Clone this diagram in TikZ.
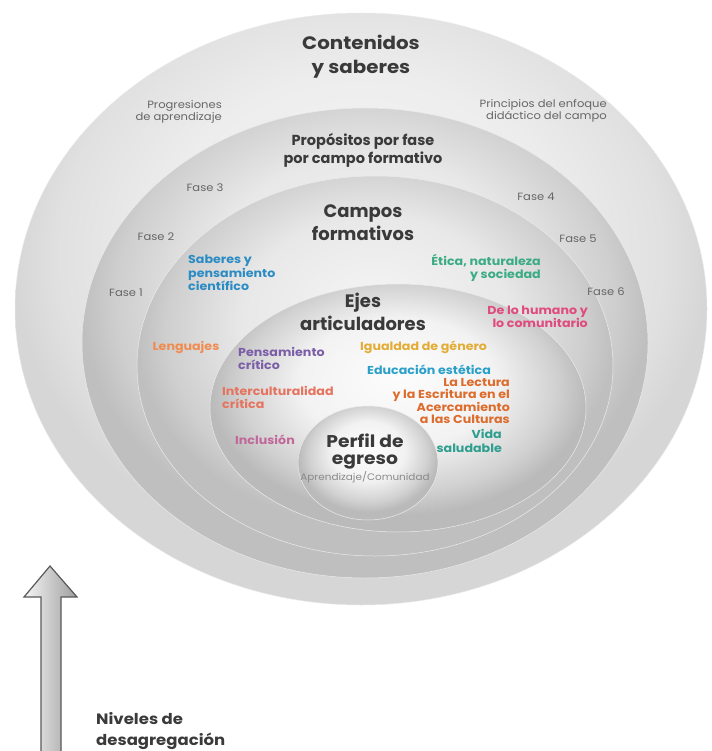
\documentclass[tikz,border=0pt]{standalone}
\usepackage{fontspec}
\setmainfont{Poppins}
\newfontfamily\wf{Poppins}[FakeStretch=1.1]
\definecolor{ttl}{HTML}{3A3A3A}
\definecolor{fas}{HTML}{666666}
\definecolor{cSab}{HTML}{2B8CC4}
\definecolor{cEti}{HTML}{3BAB84}
\definecolor{cHum}{HTML}{E04A7E}
\definecolor{cLen}{HTML}{F08C50}
\definecolor{cPen}{HTML}{7B5EA7}
\definecolor{cIgu}{HTML}{E3AC35}
\definecolor{cEdu}{HTML}{2AA0C8}
\definecolor{cLec}{HTML}{DD6C2C}
\definecolor{cInt}{HTML}{E6735E}
\definecolor{cInc}{HTML}{C2679A}
\definecolor{cVid}{HTML}{2E9E8E}
\definecolor{cApr}{HTML}{8A8A8A}
\pgfdeclareradialshading{lvlA}{\pgfpoint{0bp}{8bp}}{color(0bp)=(black!4); color(14bp)=(black!7); color(22bp)=(black!12); color(25bp)=(black!16); color(50bp)=(black!16)}
\pgfdeclareradialshading{lvlB}{\pgfpoint{0bp}{8bp}}{color(0bp)=(black!4); color(14bp)=(black!9); color(22bp)=(black!19); color(25bp)=(black!25); color(50bp)=(black!25)}
\pgfdeclareradialshading{lvlC}{\pgfpoint{0bp}{7bp}}{color(0bp)=(black!1); color(13bp)=(black!5); color(21bp)=(black!18); color(25bp)=(black!27); color(50bp)=(black!27)}
\tikzset{
  ttlnode/.style={font=\bfseries\fontsize{18}{23}\selectfont, text=ttl, align=center, inner sep=0pt},
  subttl/.style={font=\bfseries\fontsize{14.5}{18}\selectfont, text=ttl, align=center, inner sep=0pt},
  fasenode/.style={font=\wf\fontsize{10.5}{12}\selectfont, text=fas, inner sep=0pt},
  smallnode/.style={font=\wf\fontsize{10.5}{12.5}\selectfont, text=fas, inner sep=0pt},
  lab/.style={font=\wf\bfseries\fontsize{11.5}{13}\selectfont, inner sep=0pt},
  ring/.style={draw=black!8, line width=0.5pt}
}
\begin{document}
\begin{tikzpicture}[x=1pt,y=-1pt]
\useasboundingbox (0,0) rectangle (711,751);
% rings
\path[ring, shading=lvlA] (361,309) ellipse [x radius=346, y radius=296];
\path[ring, shading=lvlB] (365,343) ellipse [x radius=283, y radius=235];
\path[ring, shading=lvlB] (375,366) ellipse [x radius=238, y radius=190];
\path[ring, shading=lvlC] (398,408) ellipse [x radius=188, y radius=124];
\path[ring, shading=lvlC] (368,463) ellipse [x radius=70, y radius=57];
% titles
\node[ttlnode, font=\wf\bfseries\fontsize{18}{24}\selectfont] (contenidos) at (361,57) {Contenidos\\y saberes};
\node[smallnode, anchor=east, align=right] (progresiones) at (222,112) {Progresiones\\de aprendizaje};
\node[smallnode, anchor=east, align=right] (principios) at (607,111) {Principios del enfoque\\didáctico del campo};
\node[subttl] (propositos) at (363,150) {Propósitos por fase\\por campo formativo};
\node[fasenode] (fase3) at (205,188) {Fase 3};
\node[fasenode] (fase4) at (536,197) {Fase 4};
\node[fasenode] (fase2) at (156,237) {Fase 2};
\node[fasenode] (fase5) at (578,239) {Fase 5};
\node[fasenode] (fase1) at (126,293) {Fase 1};
\node[fasenode] (fase6) at (606,292) {Fase 6};
\node[ttlnode] (campos) at (363,223) {Campos\\formativos};
\node[lab, text=cSab, anchor=west, align=left, font=\wf\bfseries\fontsize{11.5}{13.5}\selectfont] (saberes) at (188,273) {Saberes y\\pensamiento\\científico};
\node[lab, text=cEti, anchor=east, align=right] (etica) at (541,268) {Ética, naturaleza\\y sociedad};
\node[ttlnode] (ejes) at (363,312) {Ejes\\articuladores};
\node[lab, text=cHum, anchor=east, align=right] (humano) at (588,317) {De lo humano y\\lo comunitario};
\node[lab, text=cLen] (lenguajes) at (186,347) {Lenguajes};
\node[lab, text=cPen, anchor=west, align=left] (pensamiento) at (238,358) {Pensamiento\\crítico};
\node[lab, text=cIgu, anchor=west] (igualdad) at (360,347) {Igualdad de género};
\node[lab, text=cEdu, anchor=west] (educacion) at (367,370) {Educación estética};
\node[lab, text=cLec, anchor=east, align=right, font=\wf\bfseries\fontsize{11.5}{12}\selectfont] (lectura) at (510,401) {La Lectura\\y la Escritura en el\\Acercamiento\\a las Culturas};
\node[lab, text=cInt, anchor=west, align=left] (intercult) at (222,397) {Interculturalidad\\crítica};
\node[lab, text=cInc] (inclusion) at (265,440) {Inclusión};
\node[lab, text=cVid, anchor=east, align=right, font=\wf\bfseries\fontsize{11.5}{14}\selectfont] (vida) at (502,441) {Vida\\saludable};
\node[font=\wf\bfseries\fontsize{17}{17}\selectfont, text=ttl, align=center, inner sep=0pt] (perfil) at (365,452) {Perfil de\\egreso};
\node[font=\wf\fontsize{9.5}{11}\selectfont, text=cApr, inner sep=0pt] (aprendizaje) at (365,477) {Aprendizaje/Comunidad};
% arrow
\coordinate (aTip) at (50,566);
\path[left color=black!4, right color=black!38, draw=black!65, line width=1.2pt, line join=miter]
  (41,752) -- (41,597) -- (24,597) -- (aTip) -- (77,597) -- (61,597) -- (61,752);
\node[font=\wf\bfseries\fontsize{15}{21}\selectfont, text=ttl, anchor=west, align=left, inner sep=0pt] (niveles) at (96,731) {Niveles de\\desagregación};
\end{tikzpicture}
\end{document}
